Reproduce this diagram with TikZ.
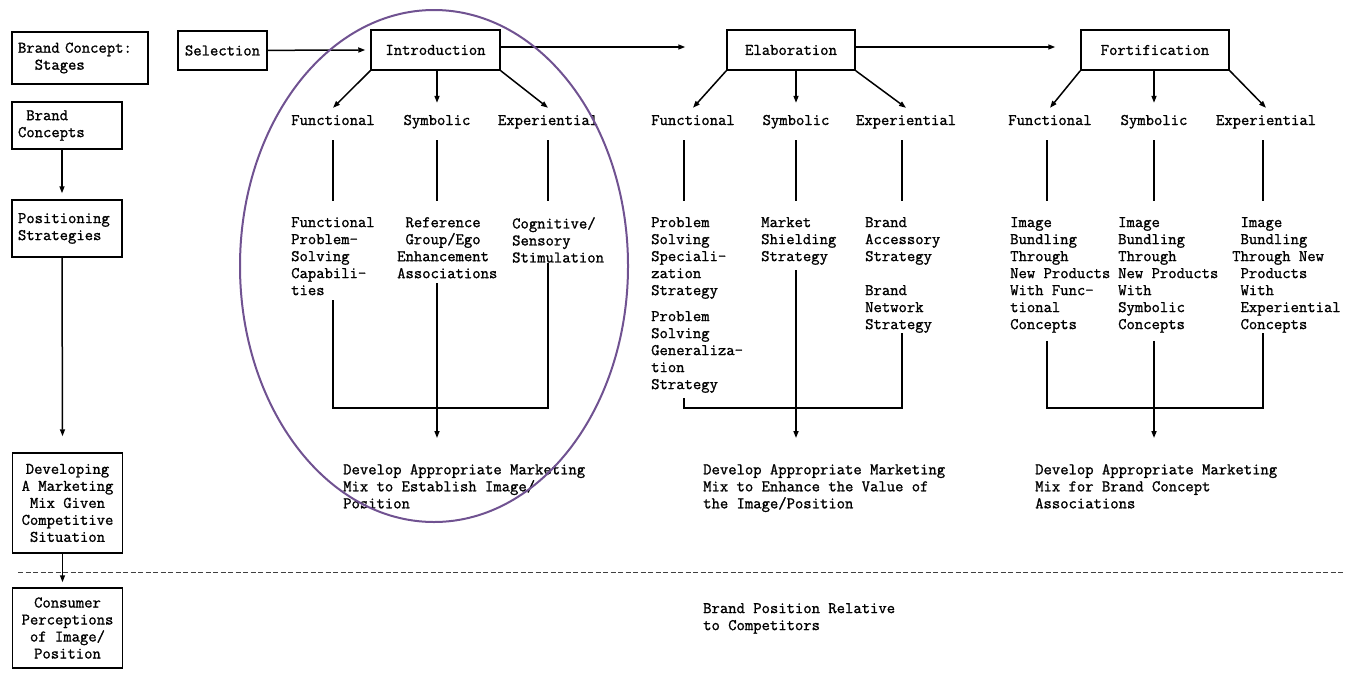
\documentclass[tikz,border=0pt]{standalone}
\usepackage{fontspec}
\setmonofont[FakeBold=1.2]{Latin Modern Mono}
\usetikzlibrary{arrows.meta}
\definecolor{ovalpurple}{RGB}{112,82,145}

\begin{document}
\begin{tikzpicture}[x=1pt,y=-1pt,
		font=\ttfamily\fontsize{16.2}{17}\selectfont,
		box/.style={draw,line width=1.5pt,inner sep=0pt,align=center},
		side/.style={box,inner xsep=6pt,align=left},
		txt/.style={anchor=north west,inner sep=0pt,align=left},
		lbl/.style={anchor=base,inner sep=0pt,text height=11pt,text depth=3pt},
		arr/.style={-{Triangle[length=7pt,width=5pt]},line width=1.5pt},
		link/.style={line width=1.8pt}]
		\useasboundingbox (0,0) rectangle (1356,675);
		\coordinate (bar) at (0,408);

		% left column
		\node[side,text width=124pt,minimum height=52pt] (stages) at (80,58) {Brand Concept:\\\phantom{xx}Stages};
		\node[side,text width=98pt,minimum height=47pt] (bcon) at (67,125.5) {\phantom{x}Brand\\Concepts};
		\node[side,text width=98pt,minimum height=57pt] (posi) at (67,228.5) {Positioning\\Strategies};
		\node[box,minimum width=110pt,minimum height=100pt] (mix) at (67.5,503) {Developing\\A Marketing\\Mix Given\\Competitive\\Situation};
		\node[box,minimum width=110pt,minimum height=80pt] (cons) at (67.5,628) {Consumer\\Perceptions\\of Image/\\Position};
		\draw[arr] ([xshift=-5pt]bcon.south) -- ([xshift=-5pt,yshift=6pt]posi.north);
		\draw[arr] ([xshift=-5pt]posi.south) -- ([xshift=-5pt,yshift=16pt]mix.north);
		\draw[arr] ([xshift=-5pt]mix.south) -- ([xshift=-5pt,yshift=5pt]cons.north);
		\draw[dash pattern=on 5pt off 2.5pt,line width=1pt,black!75] (18,572) -- (1345,572);

		% stages
		\node[box,minimum width=89pt,minimum height=39pt] (sel) at (222.5,50.5) {Selection};
		\node[box,minimum width=129pt,minimum height=40pt] (intro) at (435.5,50) {Introduction};
		\node[box,minimum width=128pt,minimum height=40pt] (elab) at (791,50) {Elaboration};
		\node[box,minimum width=148pt,minimum height=40pt] (fort) at (1155,50) {Fortification};
		\draw[arr] (sel) -- ([xshift=-5pt]intro.west);
		\draw[arr] ([yshift=3pt]intro.east) -- ([xshift=-41pt,yshift=3pt]elab.west);
		\draw[arr] ([yshift=3pt]elab.east) -- ([xshift=-25pt,yshift=3pt]fort.west);

		\foreach \s/\c/\xa/\xb/\xc in {i/intro/333/437/548, e/elab/693/796/906, f/fort/1050/1154/1266} {
			\node[lbl] (\s1) at (\xa,125) {Functional};
			\node[lbl] (\s2) at (\xb,125) {Symbolic};
			\node[lbl] (\s3) at (\xc,125) {Experiential};
			\draw[arr] (\c.south west) -- ([yshift=6pt]\s1.north);
			\draw[arr] (\s2 |- \c.south) -- ([yshift=11pt]\s2.north);
			\draw[arr] (\c.south east) -- ([yshift=6pt]\s3.north);
		}

		% introduction
		\node[txt] (ifx) at (291,217) {Functional\\Problem-\\Solving\\Capabili-\\ties};
		\node[txt] (isx) at (397,217) {~Reference\\~Group/Ego\\Enhancement\\Associations};
		\node[txt] (iex) at (512,217) {Cognitive/\\Sensory\\Stimulation};
		\node[txt] (idev) at (343,464) {Develop Appropriate Marketing\\Mix to Establish Image/\\Position};
		\foreach \n/\t in {1/fx,2/sx,3/ex}
			\draw[link,shorten <=12pt,shorten >=16pt] (i\n.south) -- (i\n |- i\t.north);
		\draw[link,shorten <=5pt] (i1 |- ifx.south) -- (i1 |- bar) -- (i3 |- bar) -- (i3 |- iex.south);
		\draw[arr,shorten <=5pt,shorten >=26pt] (i2 |- isx.south) -- (i2 |- idev.north);

		% elaboration
		\node[txt] (efx) at (651,217) {Problem\\Solving\\Speciali-\\zation\\Strategy};
		\node[txt] (efy) at (651,311) {Problem\\Solving\\Generaliza-\\tion\\Strategy};
		\node[txt] (esx) at (761,217) {Market\\Shielding\\Strategy};
		\node[txt] (eex) at (865,217) {Brand\\Accessory\\Strategy};
		\node[txt] (eey) at (865,285) {Brand\\Network\\Strategy};
		\node[txt] (edev) at (703,464) {Develop Appropriate Marketing\\Mix to Enhance the Value of\\the Image/Position};
		\draw[link,shorten <=12pt,shorten >=16pt] ([xshift=-9pt]e1.south) -- ([xshift=-9pt]e1.south |- efx.north);
		\draw[link,shorten <=12pt,shorten >=16pt] (e2.south) -- (e2 |- esx.north);
		\draw[link,shorten <=12pt,shorten >=16pt] ([xshift=-4pt]e3.south) -- ([xshift=-4pt]e3.south |- eex.north);
		\draw[link,shorten <=5pt] ([xshift=-9pt]e1.south |- efy.south) -- ([xshift=-9pt]e1.south |- bar) -- ([xshift=-4pt]e3.south |- bar) -- ([xshift=-4pt]e3.south |- eey.south);
		\draw[arr,shorten <=5pt,shorten >=26pt] (e2 |- esx.south) -- (e2 |- edev.north);

		% fortification
		\node[txt] (ffx) at (1010,217) {Image\\Bundling\\Through\\New Products\\With Func-\\tional\\Concepts};
		\node[txt] (fsx) at (1118,217) {Image\\Bundling\\Through\\New Products\\With\\Symbolic\\Concepts};
		\node[txt] (fex) at (1232,217) {~Image\\~Bundling\\Through New\\~Products\\~With\\~Experiential\\~Concepts};
		\node[txt] (fdev) at (1035,464) {Develop Appropriate Marketing\\Mix for Brand Concept\\Associations};
		\draw[link,shorten <=12pt,shorten >=16pt] ([xshift=-3pt]f1.south) -- ([xshift=-3pt]f1.south |- ffx.north);
		\draw[link,shorten <=12pt,shorten >=16pt] (f2.south) -- (f2 |- fsx.north);
		\draw[link,shorten <=12pt,shorten >=16pt] ([xshift=-3pt]f3.south) -- ([xshift=-3pt]f3.south |- fex.north);
		\draw[link,shorten <=8pt] ([xshift=-3pt]f1.south |- ffx.south) -- ([xshift=-3pt]f1.south |- bar) -- ([xshift=-3pt]f3.south |- bar) -- ([xshift=-3pt]f3.south |- fex.south);
		\draw[arr,shorten <=8pt,shorten >=26pt] (f2 |- fsx.south) -- (f2 |- fdev.north);

		% below the line
		\node[txt] (rel) at (703,603) {Brand Position Relative\\to Competitors};

		\draw[ovalpurple,line width=2pt] (434,266) ellipse [x radius=194, y radius=256];
	\end{tikzpicture}
\end{document}
